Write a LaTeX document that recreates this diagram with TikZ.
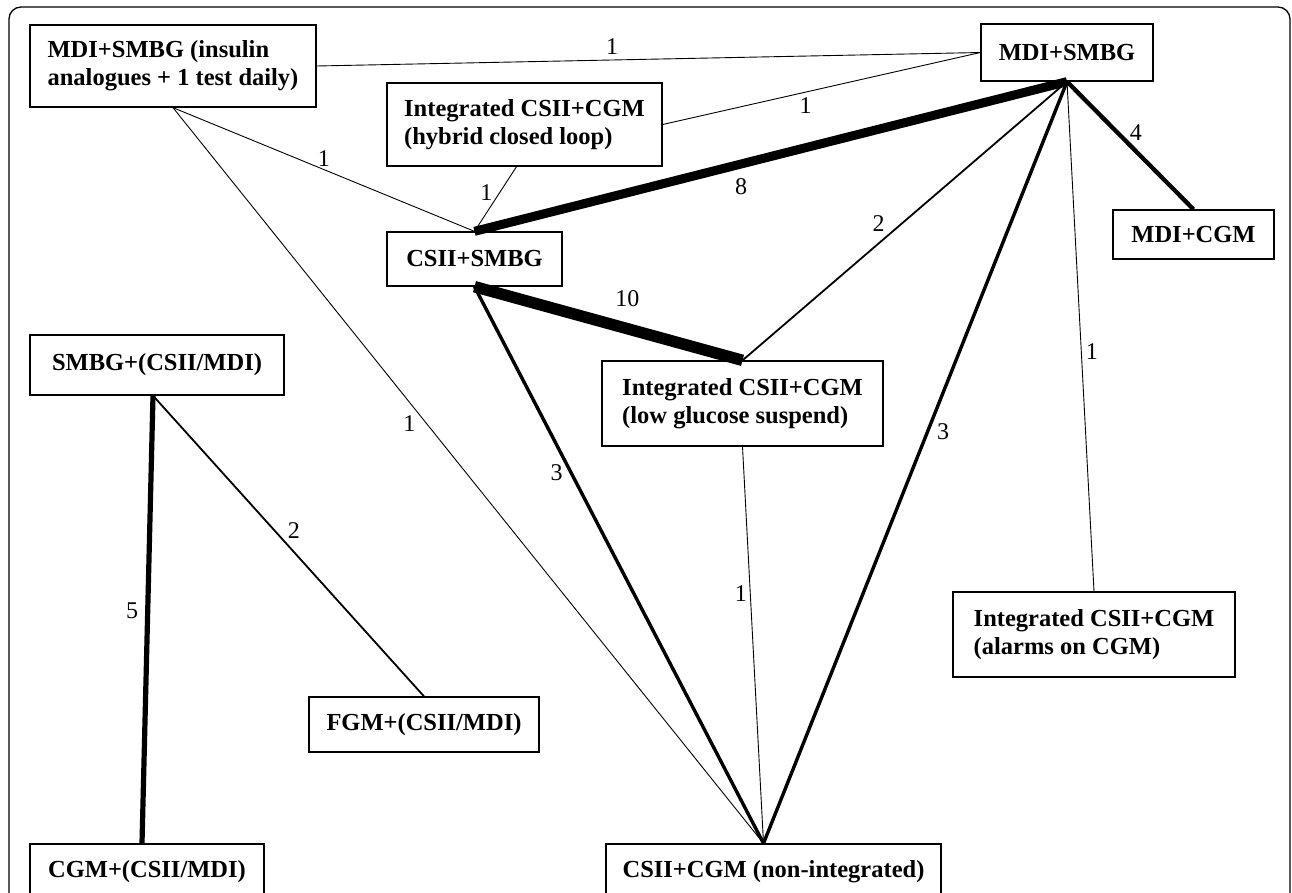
\documentclass[tikz,border=0pt]{standalone}
\usepackage{fontspec}
\setmainfont{Liberation Serif}

\begin{document}
\begin{tikzpicture}[x=1pt, y=-1pt,
                box/.style={draw, line width=1.3pt, align=left, inner xsep=6pt, inner ysep=2pt,
                            font=\fontsize{24.5}{28}\selectfont\bfseries}, % treatment boxes
                num/.style={font=\fontsize{24}{26}\selectfont, inner sep=3pt} % number of trials
                ]
\useasboundingbox (0,0) rectangle (1292,892);
\draw[line width=1.3pt, rounded corners=12pt] (9,7) rectangle (1290,930);

% treatments
\node[box, minimum width=286pt, minimum height=82pt] (ins) at (173,66) {MDI+SMBG (insulin\\analogues + 1 test daily)};
\node[box, minimum width=172pt, minimum height=57pt] (mdis) at (1067,52.5) {MDI+SMBG};
\node[box, minimum width=275pt, minimum height=83pt] (hcl) at (524.5,124.5) {Integrated CSII+CGM\\(hybrid closed loop)};
\node[box, minimum width=175pt, minimum height=54pt] (cs) at (474.5,259) {CSII+SMBG};
\node[box, minimum width=161pt, minimum height=49pt] (mdic) at (1193.5,234.5) {MDI+CGM};
\node[box, minimum width=254pt, minimum height=60pt] (smp) at (157,365) {SMBG+(CSII/MDI)};
\node[box, minimum width=281pt, minimum height=85pt] (lgs) at (742.5,403.5) {Integrated CSII+CGM\\(low glucose suspend)};
\node[box, minimum width=230pt, minimum height=55pt] (fgm) at (424,724.5) {FGM+(CSII/MDI)};
\node[box, minimum width=282pt, minimum height=85pt] (alarms) at (1094,634.5) {Integrated CSII+CGM\\(alarms on CGM)};
\node[box, minimum width=234pt, minimum height=55pt] (cgmp) at (147,871.5) {CGM+(CSII/MDI)};
\node[box, minimum width=335pt, minimum height=55pt] (ni) at (773.5,871.5) {CSII+CGM (non-integrated)};

% comparisons, width by number of trials
\draw[line width=.9pt] (ins.east) -- node[num, pos=.445, above=2pt] (n1) {1} (mdis.west);
\draw[line width=.9pt] (hcl.east) -- node[num, pos=.45, below=2pt] (n2) {1} (mdis.west);
\draw[line width=.9pt] (ins.south) -- node[num, pos=.5, above] (n3) {1} (cs.north);
\draw[line width=.9pt] (ins.south) -- node[num, pos=.43, left=8pt] (n4) {1} ([xshift=-10pt]ni.north);
\draw[line width=.9pt] ([xshift=-8pt]hcl.south) -- node[num, pos=.4, left=4pt] (n5) {1} (cs.north);
\draw[line width=9pt] (cs.north) -- node[num, pos=.45, below=7pt] (n6) {8} (mdis.south);
\draw[line width=11.5pt] (cs.south) -- node[num, pos=.57, above=13pt] (n7) {10} (lgs.north);
\draw[line width=1.8pt] (lgs.north) -- node[num, pos=.45, above left] (n8) {2} (mdis.south);
\draw[line width=4.3pt] (mdis.south) -- node[num, pos=.4, right=7pt] (n9) {4} (mdic.north);
\draw[line width=3.4pt] (mdis.south) -- node[num, pos=.46, right=5pt] (n10) {3} ([xshift=-10pt]ni.north);
\draw[line width=.9pt] (mdis.south) -- node[num, pos=.53, right=1pt] (n11) {1} (alarms.north);
\draw[line width=3.4pt] (cs.south) -- node[num, pos=.335, left=4pt] (n12) {3} ([xshift=-10pt]ni.north);
\draw[line width=.9pt] (lgs.south) -- node[num, pos=.37, left=0pt] (n13) {1} ([xshift=-10pt]ni.north);
\draw[line width=5.2pt] ([xshift=-4pt]smp.south) -- node[num, pos=.48, left=4pt] (n14) {5} ([xshift=-5pt]cgmp.north);
\draw[line width=1.8pt] ([xshift=-4pt]smp.south) -- node[num, pos=.45, right=9pt] (n15) {2} (fgm.north);
\end{tikzpicture}
\end{document}
